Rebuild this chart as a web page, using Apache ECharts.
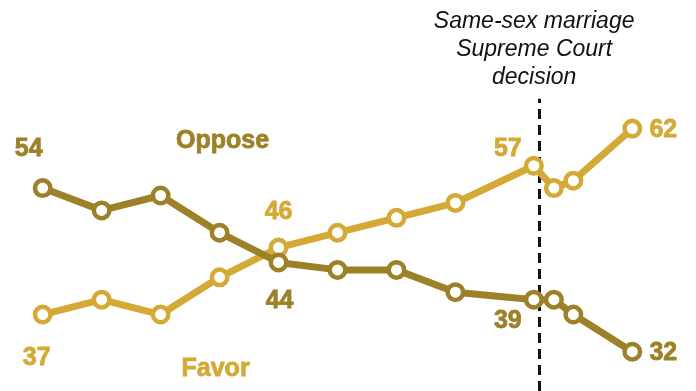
<!DOCTYPE html>
<html><head><meta charset="utf-8">
<script src="https://cdn.jsdelivr.net/npm/echarts@6/dist/echarts.min.js"></script>
<style>html,body{margin:0;padding:0;background:#fff}#c{width:696px;height:391px}</style>
</head><body><div id="c"></div>
<script>
// survey dates (fractional years)
const dates = [2007, 2008, 2009, 2010, 2011, 2012, 2013, 2014, 2015.33, 2015.67, 2016, 2017];
const favor = [37, 39, 37, 42, 46, 48, 50, 52, 57, 54, 55, 62];
const oppose = [54, 51, 53, 48, 44, 43, 43, 40, 39, 39, 37, 32];
const decisionDate = 2015.42;
const decisionText = 'Same-sex marriage\nSupreme Court\ndecision';
// which points carry value labels, and the label offsets
const favorLabels = {0: [-6, 44], 4: [0, -35], 8: [-26, -17], 11: [31, 2]};
const opposeLabels = {0: [-14, -39], 4: [1, 39], 8: [-26, 21], 11: [31, 1]};

const FAV = '#d4a935', OPP = '#9d8128';
const numFont = {fontFamily: 'Liberation Sans, Arial, sans-serif', fontWeight: 'bold', fontSize: 25};

function build(vals, color, labels, nameIdx, nameText, nameOff) {
  return vals.map((v, i) => {
    const item = {value: [dates[i], v]};
    let txt = null, off = null;
    if (labels[i]) { txt = String(v); off = labels[i]; }
    else if (i === nameIdx) { txt = nameText; off = nameOff; }
    if (txt) {
      item.label = Object.assign({show: true, position: 'inside', offset: off, color: color,
        textBorderColor: color, textBorderWidth: 0.8,
        align: 'center', verticalAlign: 'middle', formatter: txt}, numFont);
    }
    return item;
  });
}

const chart = echarts.init(document.getElementById('c'));
chart.setOption({
  animation: false,
  grid: {left: 42.7, right: 63.7, top: 98.8, bottom: 0},
  xAxis: {type: 'value', min: 2007, max: 2017, show: false},
  yAxis: {type: 'value', min: 26.72, max: 66, show: false},
  series: [
    {
      type: 'line', data: build(favor, FAV, favorLabels, 3, 'Favor', [-4, 92]),
      lineStyle: {color: FAV, width: 7}, symbol: 'circle', symbolSize: 15.5,
      itemStyle: {color: '#fff', borderColor: FAV, borderWidth: 4.5},
      emphasis: {disabled: true}, z: 2
    },
    {
      type: 'line', data: build(oppose, OPP, opposeLabels, 3, 'Oppose', [3, -92]),
      lineStyle: {color: OPP, width: 7}, symbol: 'circle', symbolSize: 15.5,
      itemStyle: {color: '#fff', borderColor: OPP, borderWidth: 4.5},
      emphasis: {disabled: true}, z: 3,
      markLine: {
        silent: true, symbol: 'none', z: 1,
        lineStyle: {color: '#111', type: [10, 6], width: 3},
        label: {
          show: true, position: 'end', formatter: decisionText, distance: 7,
          fontFamily: 'Liberation Sans, Arial, sans-serif', fontStyle: 'italic', fontSize: 23,
          lineHeight: 28, color: '#111', align: 'center', padding: [0, 10, 0, 0]
        },
        data: [{xAxis: decisionDate}]
      }
    }
  ]
});
</script></body></html>
